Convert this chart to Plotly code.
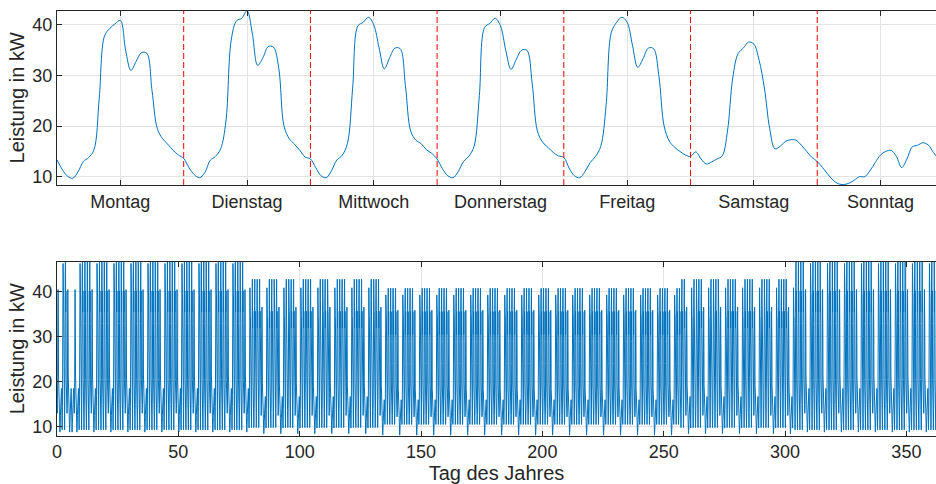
import plotly.graph_objects as go

# ---------------- Data: example week (hourly values, kW) ----------------
week_days = ["Montag", "Dienstag", "Mittwoch", "Donnerstag", "Freitag", "Samstag", "Sonntag"]
montag = [13.3, 11.4, 10.1, 9.7, 11.0, 13.0, 13.8, 15.3, 25.5, 37.8, 39.3, 40.2,
          40.9, 35.0, 31.0, 32.8, 34.5, 34.4, 27.0, 19.5, 17.5, 16.4, 15.2, 14.3]
dienstag = [13.6, 11.8, 10.4, 9.8, 10.8, 13.2, 14.0, 15.5, 21.0, 37.0, 40.8, 41.3,
            42.8, 38.3, 32.0, 33.5, 35.7, 35.6, 31.5, 20.0, 17.5, 16.4, 15.2, 13.9]
mittwoch = [13.5, 11.8, 10.2, 9.8, 11.2, 13.3, 14.2, 16.5, 27.5, 39.8, 40.5, 41.5,
            40.0, 35.5, 31.3, 33.5, 35.4, 35.3, 28.0, 19.0, 17.2, 16.5, 15.3, 14.6]
donnerstag = [13.5, 11.6, 10.2, 9.8, 11.0, 13.0, 14.0, 16.0, 26.0, 39.5, 40.3, 41.3,
              39.8, 35.0, 31.2, 33.2, 35.0, 35.0, 28.5, 19.0, 16.8, 15.8, 14.8, 14.1]
freitag = [13.8, 11.7, 10.2, 9.8, 11.0, 12.8, 14.0, 16.0, 24.0, 38.5, 40.5, 41.5,
           40.5, 36.0, 31.6, 33.3, 35.4, 35.3, 30.0, 20.0, 17.0, 15.8, 15.0, 14.3]
samstag = [14.0, 14.9, 13.5, 12.5, 12.9, 13.5, 14.1, 19.0, 29.5, 34.3, 35.4, 36.6,
           36.2, 33.0, 27.5, 19.5, 15.5, 16.0, 17.0, 17.3, 17.2, 16.2, 15.0, 13.8]
sonntag = [13.0, 11.8, 10.5, 9.3, 8.6, 8.45, 8.7, 9.3, 10.0, 10.0, 11.2, 12.8,
           14.3, 15.0, 15.2, 14.0, 11.8, 13.5, 15.9, 16.2, 16.7, 16.3, 14.8, 13.5]
week_values = [montag, dienstag, mittwoch, donnerstag, freitag, samstag, sonntag]

# ---------------- Data: seasonal day profiles for the year (hourly, kW) ----------------
winter_mo = [13.5, 11.5, 10.0, 9.3, 10.8, 13.3, 14.5, 17.0, 28.0, 42.0, 44.0, 45.5,
             46.3, 40.0, 35.0, 37.5, 39.5, 39.5, 31.0, 20.0, 18.5, 18.0, 16.5, 15.0]
winter_difr = [13.5, 11.5, 10.0, 9.3, 10.8, 13.5, 15.0, 18.5, 30.0, 43.5, 45.0, 47.5,
               48.5, 41.0, 35.5, 38.0, 40.2, 40.0, 33.0, 20.5, 18.6, 18.2, 16.5, 15.0]
winter_sa = [15.0, 15.8, 14.0, 13.0, 13.3, 14.0, 15.0, 21.0, 32.0, 38.0, 39.5, 40.5,
             40.0, 36.5, 30.0, 21.5, 17.5, 17.8, 18.5, 18.8, 18.5, 17.2, 16.0, 14.8]
winter_so = [13.5, 12.0, 10.5, 9.5, 9.0, 8.8, 9.2, 10.0, 10.8, 11.0, 12.5, 14.5,
             16.0, 16.8, 17.0, 15.5, 13.5, 14.5, 17.5, 18.2, 18.5, 17.8, 16.2, 14.5]
sommer_mo = [13.0, 12.0, 11.0, 10.5, 11.0, 12.3, 13.2, 15.0, 23.0, 35.0, 37.0, 38.5,
             39.3, 35.0, 30.0, 32.5, 35.0, 35.0, 28.0, 19.0, 17.3, 16.3, 15.0, 14.0]
sommer_difr = [13.0, 12.0, 11.0, 10.5, 11.0, 12.5, 13.5, 15.5, 24.0, 36.0, 37.5, 39.5,
               40.8, 36.0, 30.5, 33.0, 35.6, 35.5, 29.0, 19.5, 17.5, 16.5, 15.0, 14.0]
sommer_sa = [14.0, 14.5, 13.0, 12.2, 12.5, 13.0, 13.5, 18.0, 27.0, 33.0, 34.5, 35.9,
             35.5, 32.0, 26.0, 18.5, 15.0, 15.5, 16.5, 16.8, 16.5, 15.5, 14.5, 13.5]
sommer_so = [12.5, 11.2, 10.0, 9.0, 8.3, 8.1, 8.4, 9.0, 9.8, 10.0, 11.0, 12.5,
             13.8, 14.5, 14.6, 13.5, 12.0, 12.3, 14.8, 15.5, 16.0, 15.5, 14.2, 13.0]

profiles = {
    "winter": {"Mo": winter_mo, "DiFr": winter_difr, "Sa": winter_sa, "So": winter_so},
    "uebergang": {"Mo": montag, "DiFr": dienstag, "Sa": samstag, "So": sonntag},
    "sommer": {"Mo": sommer_mo, "DiFr": sommer_difr, "Sa": sommer_sa, "So": sommer_so},
}

# Calendar
days_in_year = 365
jan1_weekday = 5  # 0 = Montag ... 5 = Samstag
season_starts = [(0, "winter"), (79, "uebergang"), (134, "sommer"), (257, "uebergang"), (304, "winter")]
day_overrides = {4: "Sa", 5: "So", 6: "So"}
weekday_types = ["Mo", "DiFr", "DiFr", "DiFr", "DiFr", "Sa", "So"]

year_x, year_y = [], []
for d in range(days_in_year):
    season = [s for start, s in season_starts if d >= start][-1]
    dtype = day_overrides.get(d, weekday_types[(jan1_weekday + d) % 7])
    prof = profiles[season][dtype]
    for h, v in enumerate(prof):
        year_x.append(d + h / 24)
        year_y.append(v)

week_x, week_y = [], []
for d, vals in enumerate(week_values):
    for h, v in enumerate(vals):
        week_x.append(d * 24 + h)
        week_y.append(v)

# ---------------- Figure ----------------
blue = "#0072BD"
axis_col = "#262626"
grid_col = "#e3e3e3"
font = dict(family="Liberation Sans, Arial, Helvetica, sans-serif", size=18, color=axis_col)

fig = go.Figure()
fig.add_trace(go.Scatter(x=week_x, y=week_y, mode="lines", line=dict(color=blue, width=1, shape="spline"),
                         xaxis="x", yaxis="y", showlegend=False, hoverinfo="x+y"))
fig.add_trace(go.Scatter(x=year_x, y=year_y, mode="lines", line=dict(color=blue, width=1),
                         xaxis="x2", yaxis="y2", showlegend=False, hoverinfo="x+y"))

# red dashed day separators
for k in range(1, len(week_days)):
    fig.add_shape(type="line", xref="x", yref="y domain", x0=24 * k, x1=24 * k, y0=0, y1=1,
                  line=dict(color="#ff0000", width=1, dash="6px,3px"))

common_axis = dict(showline=True, linecolor=axis_col, linewidth=1, ticks="inside", ticklen=5,
                   tickcolor=axis_col, showgrid=True, gridcolor=grid_col, gridwidth=1,
                   zeroline=False, tickfont=font, automargin=False)

fig.update_layout(
    width=936, height=484,
    margin=dict(l=57, r=0, t=0, b=0),
    paper_bgcolor="white", plot_bgcolor="white",
    font=font,
    xaxis=dict(common_axis, domain=[0, 1], anchor="y", range=[0, 166.5], mirror="ticks",
               tickmode="array", tickvals=[24 * k + 12 for k in range(7)], ticktext=week_days),
    yaxis=dict(common_axis, domain=[0.6178, 0.9779], anchor="x", range=[8.36, 42.8],
               tickvals=[10, 20, 30, 40], mirror=False,
               title=dict(text="Leistung in kW", font=dict(font, size=20), standoff=2)),
    xaxis2=dict(common_axis, domain=[0, 1], anchor="y2", range=[0, 362.2], mirror="ticks",
                tickvals=[0, 50, 100, 150, 200, 250, 300, 350],
                title=dict(text="Tag des Jahres", font=dict(font, size=20), standoff=2)),
    yaxis2=dict(common_axis, domain=[0.0998, 0.4593], anchor="x2", range=[8.0, 46.7],
                tickvals=[10, 20, 30, 40], mirror=False,
                title=dict(text="Leistung in kW", font=dict(font, size=20), standoff=2)),
)

fig.write_html("out.html", config={"displayModeBar": False},
               post_script="document.body.style.margin='0';document.body.style.overflow='hidden';")
